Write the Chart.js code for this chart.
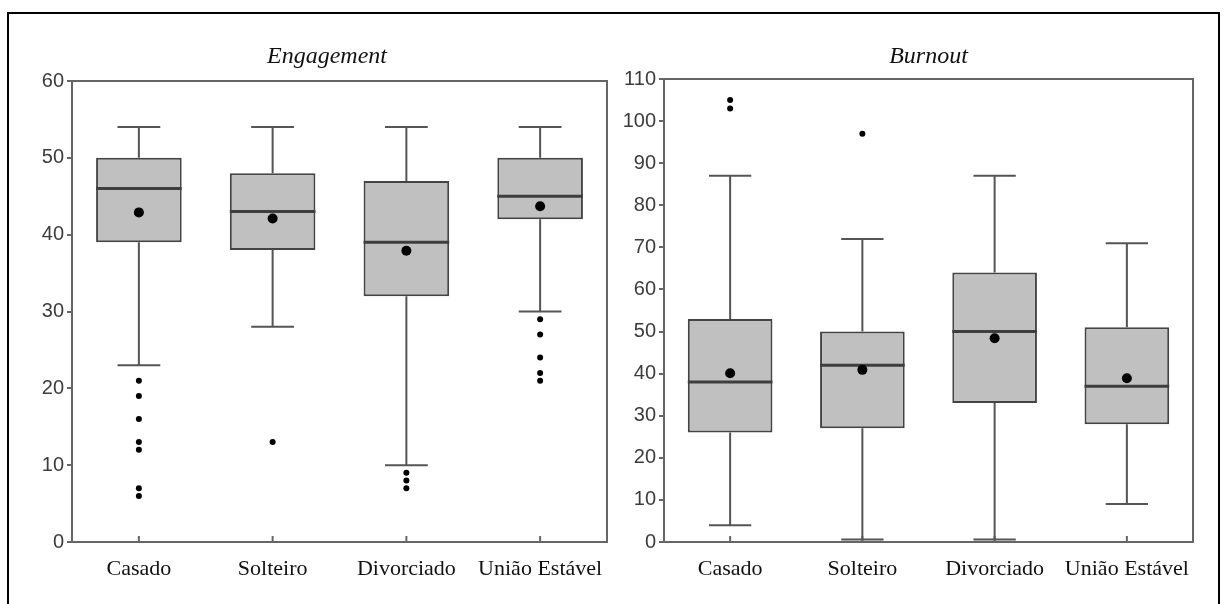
<!DOCTYPE html>
<html>
<head>
<meta charset="utf-8">
<script src="https://cdn.jsdelivr.net/npm/chart.js@4.4.1/dist/chart.umd.min.js"></script>
<style>
  html, body { margin:0; padding:0; background:#fff; width:1225px; height:604px; overflow:hidden; }
  #frame { position:absolute; left:7px; top:12px; width:1213px; height:600px; border:2px solid #000; box-sizing:border-box; }
  .cv { position:absolute; top:0; height:604px; }
  #c1 { left:0; width:615px; }
  #c2 { left:615px; width:610px; }
</style>
</head>
<body>
<div id="frame"></div>
<div class="cv" id="c1"><canvas id="eng"></canvas></div>
<div class="cv" id="c2"><canvas id="bur"></canvas></div>
<script>
// ---- Data ----
const categories = ['Casado', 'Solteiro', 'Divorciado', 'União Estável'];

// Engagement
const engWhiskerLow  = [23, 28, 10, 30];
const engQ1          = [39, 38, 32, 42];
const engMedian      = [46, 43, 39, 45];
const engQ3          = [50, 48, 47, 50];
const engWhiskerHigh = [54, 54, 54, 54];
const engMean        = [42.9, 42.1, 37.9, 43.7];
const engOutliers    = [[21, 19, 16, 13, 12, 7, 6], [13], [9, 8, 7], [29, 27, 24, 22, 21]];
const engTicks       = [0, 10, 20, 30, 40, 50, 60];

// Burnout
const burWhiskerLow  = [4, 0.6, 0.6, 9];
const burQ1          = [26, 27, 33, 28];
const burMedian      = [38, 42, 50, 37];
const burQ3          = [53, 50, 64, 51];
const burWhiskerHigh = [87, 72, 87, 71];
const burMean        = [40.1, 40.9, 48.4, 38.9];
const burOutliers    = [[105, 103], [97], [], []];
const burTicks       = [0, 10, 20, 30, 40, 50, 60, 70, 80, 90, 100, 110];

// ---- Helpers ----
function makeBoxPlugin(title, low, med, high) {
  return {
    id: 'boxParts',
    beforeDatasetsDraw(chart) {
      const {ctx, chartArea:a, scales:{x, y}} = chart;
      const q1 = chart.data.datasets[0].data.map(d => d[0]);
      const q3 = chart.data.datasets[0].data.map(d => d[1]);
      const cw = x.getPixelForValue(1) - x.getPixelForValue(0);
      const capHalf = cw * 0.16;
      ctx.save();
      // plot frame
      ctx.strokeStyle = '#666666';
      ctx.lineWidth = 2;
      ctx.strokeRect(a.left, a.top, a.right - a.left, a.bottom - a.top);
      // inward x tick marks
      categories.forEach((c, i) => {
        const cx = x.getPixelForValue(i);
        ctx.beginPath();
        ctx.moveTo(cx, a.bottom);
        ctx.lineTo(cx, a.bottom - 6);
        ctx.stroke();
      });
      // whiskers
      ctx.strokeStyle = '#555555';
      ctx.lineWidth = 2;
      categories.forEach((c, i) => {
        const cx = x.getPixelForValue(i);
        ctx.beginPath();
        ctx.moveTo(cx, y.getPixelForValue(high[i]));
        ctx.lineTo(cx, y.getPixelForValue(q3[i]));
        ctx.moveTo(cx, y.getPixelForValue(q1[i]));
        ctx.lineTo(cx, y.getPixelForValue(low[i]));
        ctx.moveTo(cx - capHalf, y.getPixelForValue(high[i]));
        ctx.lineTo(cx + capHalf, y.getPixelForValue(high[i]));
        ctx.moveTo(cx - capHalf, y.getPixelForValue(low[i]));
        ctx.lineTo(cx + capHalf, y.getPixelForValue(low[i]));
        ctx.stroke();
      });
      ctx.restore();
    },
    afterDatasetDraw(chart, args) {
      if (args.index !== 0) return;
      const {ctx, scales:{x, y}} = chart;
      const meta = chart.getDatasetMeta(0);
      ctx.save();
      ctx.strokeStyle = '#3e3e3e';
      ctx.lineWidth = 3;
      meta.data.forEach((bar, i) => {
        const half = bar.width / 2;
        const py = y.getPixelForValue(med[i]);
        ctx.beginPath();
        ctx.moveTo(bar.x - half, py);
        ctx.lineTo(bar.x + half, py);
        ctx.stroke();
      });
      ctx.restore();
    },
    afterDraw(chart) {
      const {ctx, chartArea:a} = chart;
      ctx.save();
      ctx.fillStyle = '#111';
      ctx.font = 'italic 24px "Liberation Serif", "DejaVu Serif", serif';
      ctx.textAlign = 'center';
      ctx.textBaseline = 'alphabetic';
      ctx.fillText(title, chart.options.titleX != null ? chart.options.titleX : (a.left + a.right) / 2, 63);
      ctx.restore();
    }
  };
}

function outlierPoints(outs) {
  const pts = [];
  outs.forEach((arr, i) => arr.forEach(v => pts.push({x: categories[i], y: v})));
  return pts;
}

function makeChart(id, cfg) {
  const ticksArr = cfg.ticks;
  return new Chart(document.getElementById(id), {
    type: 'bar',
    data: {
      labels: categories,
      datasets: [
        {
          type: 'bar',
          data: cfg.q1.map((v, i) => [v, cfg.q3[i]]),
          backgroundColor: '#c0c0c0',
          borderColor: '#444444',
          borderWidth: 2,
          borderSkipped: false,
          categoryPercentage: 1.0,
          barPercentage: 0.64,
          order: 3
        },
        {
          type: 'line',
          data: outlierPoints(cfg.outliers),
          showLine: false,
          pointRadius: 3,
          pointBackgroundColor: '#000',
          pointBorderWidth: 0,
          order: 2
        },
        {
          type: 'line',
          data: cfg.mean,
          showLine: false,
          pointRadius: 5,
          pointBackgroundColor: '#000',
          pointBorderWidth: 0,
          order: 1
        }
      ]
    },
    options: {
      responsive: true,
      maintainAspectRatio: false,
      animation: false,
      events: [],
      titleX: cfg.titleX,
      layout: { padding: cfg.padding },
      plugins: { legend: { display: false }, tooltip: { enabled: false }, title: { display: false } },
      scales: {
        x: {
          type: 'category',
          offset: true,
          grid: { display: false },
          border: { display: false },
          ticks: {
            color: '#111',
            font: { family: '"Liberation Serif", "DejaVu Serif", serif', size: 22 },
            padding: 6,
            maxRotation: 0,
            autoSkip: false
          },
          afterFit(scale) { scale.height = 40; }
        },
        y: {
          min: ticksArr[0],
          max: ticksArr[ticksArr.length - 1],
          afterBuildTicks(scale) { scale.ticks = ticksArr.map(v => ({value: v})); },
          grid: { drawOnChartArea: false, drawTicks: true, tickLength: 5, color: '#666666', lineWidth: 2 },
          border: { display: false },
          ticks: {
            color: '#3c3c3c',
            font: { family: '"Liberation Sans", Arial, sans-serif', size: 20 },
            padding: 3
          },
          afterFit(scale) { scale.width = cfg.yWidth; }
        }
      }
    },
    plugins: [makeBoxPlugin(cfg.title, cfg.low, cfg.median, cfg.high)]
  });
}

makeChart('eng', {
  title: 'Engagement', titleX: 327,
  q1: engQ1, q3: engQ3, low: engWhiskerLow, high: engWhiskerHigh, median: engMedian,
  mean: engMean, outliers: engOutliers, ticks: engTicks,
  yWidth: 72, padding: { left: 0, right: 8, top: 81, bottom: 22 }
});

makeChart('bur', {
  title: 'Burnout', titleX: null,
  q1: burQ1, q3: burQ3, low: burWhiskerLow, high: burWhiskerHigh, median: burMedian,
  mean: burMean, outliers: burOutliers, ticks: burTicks,
  yWidth: 49, padding: { left: 0, right: 32, top: 79, bottom: 22 }
});
</script>
</body>
</html>
